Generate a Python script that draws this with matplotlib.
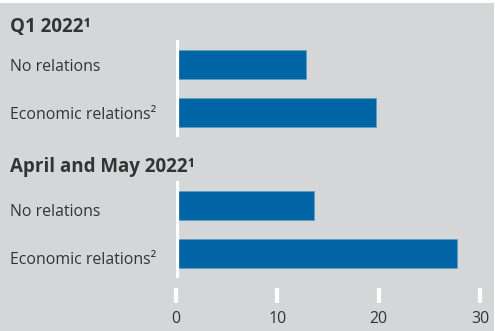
import matplotlib
matplotlib.use("Agg")
import matplotlib.pyplot as plt

plt.rcParams['font.family'] = ['Open Sans', 'DejaVu Sans']

panel_titles = ["Q1 2022¹", "April and May 2022¹"]
categories = ["No relations", "Economic relations²"]
values = [
    [12.8, 19.7],   # Q1 2022
    [13.6, 27.7],   # April and May 2022
]
x_ticks = [0, 10, 20, 30]

W, H = 495, 331
BG = "#d5d6d8"
BAR = "#0064a5"
EDGE = "#5f9cc6"
TXT = "#333333"

fig = plt.figure(figsize=(W / 100, H / 100), dpi=100)
fig.patch.set_facecolor("white")

# gray panel background (white strip along top)
fig.add_artist(plt.Rectangle((0, 0), 494 / W, (H - 3) / H, transform=fig.transFigure,
                             facecolor=BG, edgecolor="none", zorder=0))

x0_px, x30_px = 175.7, 480.0
ax_left = x0_px / W
ax_width = (x30_px - x0_px) / W

panel_tops = [40, 181]      # pixel rows (from top) of each panel's zero line
panel_h = 97
title_base = [32, 172]      # text baselines, pixel rows from top
label_base = [[71, 119], [216, 264]]

for i, (title, vals) in enumerate(zip(panel_titles, values)):
    top = panel_tops[i]
    ax = fig.add_axes([ax_left, 1 - (top + panel_h) / H, ax_width, panel_h / H])
    ax.set_facecolor("none")
    pos = list(range(len(categories)))
    ax.barh(pos, vals, height=0.6, color=BAR, edgecolor=EDGE, linewidth=0.6, zorder=2)
    ax.axvline(0, color="white", lw=3.8, zorder=3)
    ax.set_xlim(0, 30)
    ax.set_ylim(len(categories) - 0.5, -0.5)
    ax.axis("off")
    fig.text(10 / W, 1 - title_base[i] / H, title, fontsize=13.5, fontweight="bold",
             color=TXT, va="baseline", ha="left")
    for j, cat in enumerate(categories):
        fig.text(10 / W, 1 - label_base[i][j] / H, cat, fontsize=11.4, color=TXT,
                 va="baseline", ha="left")

# value axis with white ticks
axt = fig.add_axes([ax_left, 1 - 288 / H, ax_width, 0.0001])
axt.set_facecolor("none")
for s in axt.spines.values():
    s.set_visible(False)
axt.set_xlim(0, 30)
axt.set_yticks([])
axt.set_xticks(x_ticks)
axt.set_xticklabels([str(t) for t in x_ticks])
axt.tick_params(axis="x", direction="out", length=10.8, width=3, color="white",
                labelsize=11.4, labelcolor=TXT, pad=6)

fig.savefig("out.png", dpi=100, facecolor=fig.get_facecolor())
